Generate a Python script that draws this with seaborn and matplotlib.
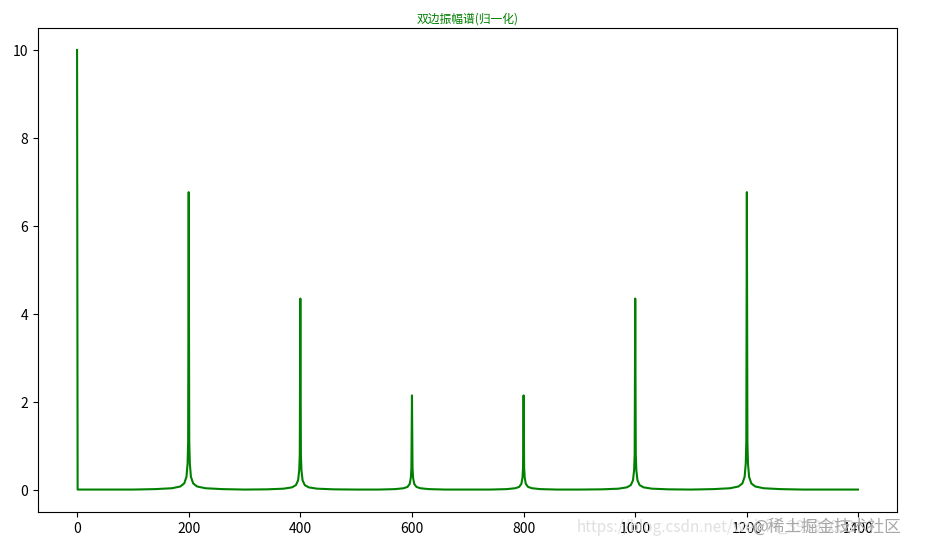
import matplotlib
matplotlib.use("Agg")
import matplotlib.pyplot as plt
import seaborn as sns

plt.rcParams['font.family'] = ['Noto Sans CJK SC', 'DejaVu Sans']
plt.rcParams['axes.unicode_minus'] = False

title = "双边振幅谱(归一化)"

freq = [0, 1, 100,
        140, 170, 185, 192, 196, 198, 199, 200, 201, 202, 204, 208, 215, 230, 260,
        300,
        340, 370, 385, 392, 396, 398, 399, 400, 401, 402, 404, 408, 415, 430, 460,
        500,
        540, 570, 585, 592, 596, 598, 599, 600, 601, 602, 604, 608, 615, 630, 660,
        700,
        740, 770, 785, 792, 796, 798, 799, 800, 801, 802, 804, 808, 815, 830, 860,
        900,
        940, 970, 985, 992, 996, 998, 999, 1000, 1001, 1002, 1004, 1008, 1015, 1030, 1060,
        1100,
        1140, 1170, 1185, 1192, 1196, 1198, 1199, 1200, 1201, 1202, 1204, 1208, 1215, 1230, 1260,
        1300, 1399]

amp = [10.0, 0.01, 0.01,
       0.02, 0.04, 0.08, 0.15, 0.30, 0.60, 1.10, 6.77, 1.10, 0.60, 0.30, 0.15, 0.08, 0.04, 0.02,
       0.01,
       0.015, 0.03, 0.06, 0.11, 0.22, 0.45, 0.80, 4.35, 0.80, 0.45, 0.22, 0.11, 0.06, 0.03, 0.015,
       0.01,
       0.01, 0.02, 0.04, 0.07, 0.14, 0.28, 0.50, 2.15, 0.50, 0.28, 0.14, 0.07, 0.04, 0.02, 0.01,
       0.01,
       0.01, 0.02, 0.04, 0.07, 0.14, 0.28, 0.50, 2.15, 0.50, 0.28, 0.14, 0.07, 0.04, 0.02, 0.01,
       0.01,
       0.015, 0.03, 0.06, 0.11, 0.22, 0.45, 0.80, 4.35, 0.80, 0.45, 0.22, 0.11, 0.06, 0.03, 0.015,
       0.01,
       0.02, 0.04, 0.08, 0.15, 0.30, 0.60, 1.10, 6.77, 1.10, 0.60, 0.30, 0.15, 0.08, 0.04, 0.02,
       0.01, 0.01]

fig = plt.figure(figsize=(9.26, 5.54), dpi=100)
ax = fig.add_axes([38/926, 1-512/554, (897-38)/926, (512-28)/554])
sns.lineplot(x=freq, y=amp, color='green', linewidth=1.5, ax=ax)
ax.set_xlim(-70, 1469)
ax.set_ylim(-0.5, 10.5)
ax.set_xticks([0, 200, 400, 600, 800, 1000, 1200, 1400])
ax.set_yticks([0, 2, 4, 6, 8, 10])
ax.tick_params(labelsize=10)
ax.set_title(title, fontsize=8.5, color='green', pad=4)

fig.text(577/926, 1-527/554, "https://blog.csdn.net/weixin_39591031", fontsize=11,
         color='#e0e0e0', va='center', ha='left', zorder=5)
fig.text(752/926, 1-527/554, "@稀土掘金技术社区", fontsize=12,
         color='#a8a8a8', va='center', ha='left', zorder=6)

fig.savefig("out.png", dpi=100)
